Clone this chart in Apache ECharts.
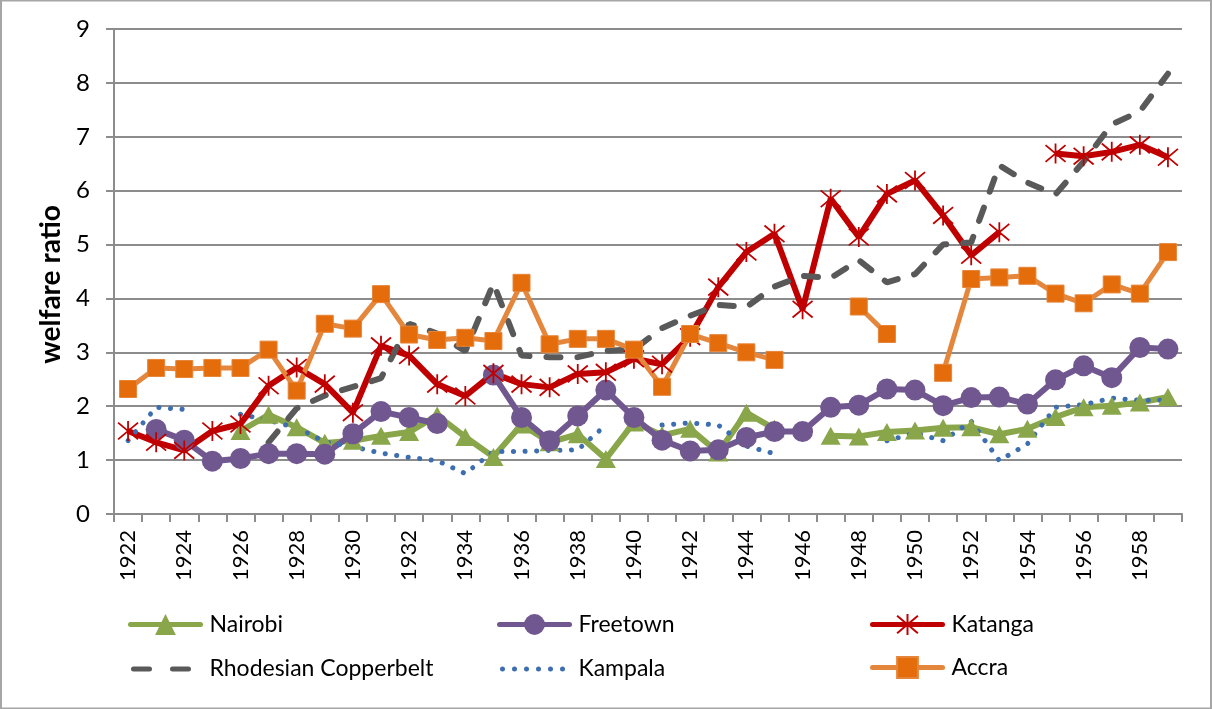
<!DOCTYPE html>
<html>
<head>
<meta charset="utf-8">
<script src="https://cdn.jsdelivr.net/npm/echarts@6/dist/echarts.min.js"></script>
<style>
  html, body { margin: 0; padding: 0; background: #fff; }
  #main { width: 1212px; height: 709px; }
</style>
</head>
<body>
<div id="main"></div>
<script>
// years on the x axis
var years = [];
for (var y = 1922; y <= 1959; y++) years.push(String(y));

var yTicks = [0, 1, 2, 3, 4, 5, 6, 7, 8, 9];

var nairobi = [null, null, null, null, 1.54, 1.84, 1.61, 1.32, 1.36, 1.45,
  1.52, 1.83, 1.43, 1.06, 1.66, 1.33, 1.48, 1.02, 1.70, 1.46,
  1.58, 1.14, 1.88, 1.58, null, 1.45, 1.44, 1.52, 1.55, 1.60,
  1.61, 1.48, 1.58, 1.80, 1.98, 2.01, 2.07, 2.17];

var freetown = [null, 1.57, 1.37, 0.98, 1.03, 1.12, 1.12, 1.11, 1.49, 1.90,
  1.79, 1.68, null, 2.58, 1.79, 1.36, 1.82, 2.30, 1.79, 1.37,
  1.17, 1.19, 1.42, 1.53, 1.53, 1.98, 2.02, 2.32, 2.30, 2.01,
  2.16, 2.17, 2.04, 2.49, 2.75, 2.53, 3.09, 3.06];

var katanga = [1.54, 1.33, 1.18, 1.54, 1.67, 2.38, 2.72, 2.41, 1.88, 3.12,
  2.94, 2.41, 2.19, 2.61, 2.41, 2.35, 2.60, 2.63, 2.88, 2.78,
  3.29, 4.21, 4.86, 5.20, 3.80, 5.85, 5.14, 5.94, 6.19, 5.54,
  4.80, 5.23, null, 6.69, 6.64, 6.72, 6.85, 6.62];

var copperbelt = [null, null, null, null, null, 1.33, 1.96, 2.20, 2.36, 2.52,
  3.53, 3.35, 3.02, 4.28, 2.94, 2.91, 2.91, 3.03, 3.05, 3.45,
  3.68, 3.88, 3.84, 4.22, 4.42, 4.38, 4.71, 4.30, 4.45, 5.00,
  5.04, 6.47, 6.15, 5.93, 6.54, 7.23, 7.47, 8.17];

var kampala = [1.36, 1.98, 1.94, null, 1.85, 1.74, 1.60, 1.34, 1.25, 1.13,
  1.05, 0.99, 0.75, 1.16, 1.16, 1.18, 1.19, 1.65, null, 1.65,
  1.69, 1.65, 1.26, 1.12, null, null, null, 1.36, 1.50, 1.36,
  1.72, 0.99, 1.30, 1.98, 2.03, 2.15, 2.11, 2.11];

var accra = [2.32, 2.71, 2.69, 2.71, 2.71, 3.05, 2.29, 3.53, 3.44, 4.08,
  3.33, 3.23, 3.27, 3.21, 4.29, 3.15, 3.25, 3.25, 3.05, 2.36,
  3.34, 3.17, 3.00, 2.86, null, null, 3.85, 3.34, null, 2.62,
  4.36, 4.39, 4.42, 4.09, 3.91, 4.26, 4.09, 4.86];

var FONT = 'Lato, "Open Sans", sans-serif';
var gridColor = '#8c8c8c';
var starPath = 'path://M0,0L20,20M20,0L0,20M10,-2L10,22';
// legend keys for the two marker-less series (70 x 26 box)
var dashIcon = 'path://M0,0L0.01,0M70,26L69.99,26' +
  'M3,10.5h16a2.5,2.5 0 0 1 0,5h-16a2.5,2.5 0 0 1 0,-5z' +
  'M42,10.5h16a2.5,2.5 0 0 1 0,5h-16a2.5,2.5 0 0 1 0,-5z';
var dotIcon = 'path://M0,0L0.01,0M70,26L69.99,26';
[3, 15, 27, 39, 51, 63].forEach(function (cx) {
  dotIcon += 'M' + (cx - 2.5) + ',13a2.5,2.5 0 1 0 5,0a2.5,2.5 0 1 0 -5,0z';
});

var chart = echarts.init(document.getElementById('main'));

function legendCol(left, names) {
  return {
    left: left, top: 613, orient: 'vertical', itemGap: 20, padding: 0,
    itemWidth: 70, itemHeight: 26,
    data: names,
    lineStyle: { width: 5, cap: 'round' },
    textStyle: { fontFamily: FONT, fontSize: 23, color: '#000', padding: [0, 0, 0, 4] }
  };
}

var option = {
  animation: false,
  backgroundColor: '#fff',
  textStyle: { fontFamily: FONT },
  graphic: [{
    type: 'rect', shape: { x: 1, y: 0.5, width: 1210, height: 708 },
    style: { fill: 'none', stroke: '#a6a6a6', lineWidth: 2 }, silent: true
  }],
  legend: [
    legendCol(128, ['Nairobi', { name: 'Rhodesian Copperbelt', icon: dashIcon }]),
    legendCol(497, ['Freetown', { name: 'Kampala', icon: dotIcon }]),
    legendCol(870, ['Katanga', 'Accra'])
  ],
  grid: { left: 114, right: 30, top: 29, bottom: 195 },
  xAxis: {
    type: 'category',
    data: years,
    boundaryGap: true,
    axisLine: { lineStyle: { color: gridColor, width: 2 } },
    axisTick: { show: true, interval: 0, length: 8, lineStyle: { color: gridColor, width: 2 } },
    axisLabel: { interval: 1, rotate: 90, margin: 16, fontFamily: FONT, fontSize: 22, color: '#000' },
    splitLine: { show: false }
  },
  yAxis: {
    type: 'value',
    min: 0, max: 9, interval: 1,
    name: 'welfare ratio',
    nameLocation: 'middle',
    nameRotate: 90,
    nameGap: 48,
    nameTextStyle: { fontFamily: FONT, fontSize: 28, fontWeight: 'bold', color: '#000', padding: [0, 26, 0, 0] },
    axisLine: { show: true, lineStyle: { color: gridColor, width: 2 } },
    axisTick: { show: true, length: 8, lineStyle: { color: gridColor, width: 2 } },
    axisLabel: {
      margin: 24, fontFamily: FONT, fontSize: 24, color: '#000',
      formatter: function (v) { return yTicks.indexOf(v) >= 0 ? String(v) : ''; }
    },
    splitLine: { show: true, lineStyle: { color: gridColor, width: 2 } }
  },
  series: [
    {
      name: 'Nairobi', type: 'line', data: nairobi, connectNulls: false, showAllSymbol: true,
      symbol: 'triangle', symbolSize: [20, 18],
      lineStyle: { color: '#8aa64a', width: 6 },
      itemStyle: { color: '#8aa64a' }
    },
    {
      name: 'Freetown', type: 'line', data: freetown, connectNulls: false, showAllSymbol: true,
      symbol: 'circle', symbolSize: 21,
      lineStyle: { color: '#70578f', width: 6 },
      itemStyle: { color: '#70578f' }
    },
    {
      name: 'Katanga', type: 'line', data: katanga, connectNulls: false, showAllSymbol: true,
      symbol: starPath, symbolSize: 20,
      lineStyle: { color: '#c00000', width: 6 },
      itemStyle: { color: '#c00000', borderColor: '#c00000', borderWidth: 1.8 }
    },
    {
      name: 'Rhodesian Copperbelt', type: 'line', data: copperbelt, connectNulls: false,
      symbol: 'none',
      lineStyle: { color: '#595959', width: 6, type: [14, 17], cap: 'round' },
      itemStyle: { color: '#595959' }
    },
    {
      name: 'Kampala', type: 'line', data: kampala, connectNulls: false,
      symbol: 'none',
      lineStyle: { color: '#3d6eb0', width: 5, type: [0.1, 11.5], cap: 'round' },
      itemStyle: { color: '#3d6eb0' }
    },
    {
      name: 'Accra', type: 'line', data: accra, connectNulls: false, showAllSymbol: true,
      symbol: 'rect', symbolSize: 17,
      lineStyle: { color: '#e4873c', width: 5 },
      itemStyle: { color: '#e46c0a', borderColor: '#e5853a', borderWidth: 1 }
    }
  ]
};

chart.setOption(option);
window.addEventListener('resize', function () { chart.resize(); });
</script>
</body>
</html>
